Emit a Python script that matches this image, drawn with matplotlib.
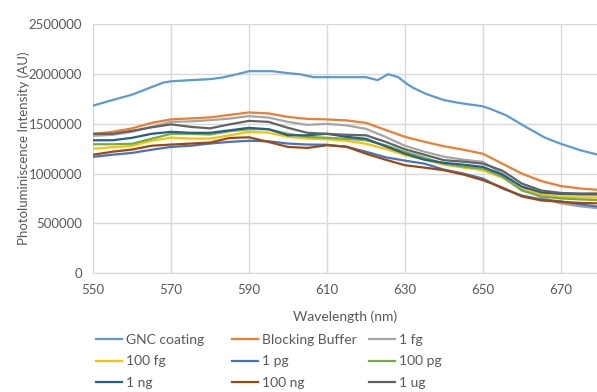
import matplotlib
matplotlib.use("Agg")
import matplotlib.pyplot as plt
from matplotlib.ticker import FuncFormatter

plt.rcParams['font.family'] = ['Lato', 'DejaVu Sans']

# shared wavelength grid (nm)
wavelength = [550, 555, 560, 565, 570, 575, 580, 585, 590, 595, 600, 605, 610, 615,
              620, 625, 630, 635, 640, 645, 650, 655, 660, 665, 670, 675, 680]

# GNC coating is read more finely (it has a small bump near 625 nm)
gnc_wavelength = [550, 555, 560, 565, 568, 570, 575, 580, 583, 587, 590, 596, 600, 603,
                  606.5, 610, 620, 623, 625.7, 628.3, 630.4, 632, 635.5, 640, 644, 650,
                  652, 656, 661, 666, 670, 675, 680]
gnc_coating = [1.684, 1.74, 1.794, 1.87, 1.915, 1.928, 1.94, 1.95, 1.965, 2.0, 2.03, 2.03,
               2.01, 2.0, 1.97, 1.97, 1.97, 1.94, 2.0, 1.97, 1.905, 1.865, 1.80, 1.74,
               1.71, 1.677, 1.65, 1.586, 1.47, 1.36, 1.30, 1.235, 1.185]

blocking_buffer = [1.40, 1.42, 1.455, 1.51, 1.545, 1.555, 1.565, 1.59, 1.615, 1.605, 1.57,
                   1.55, 1.545, 1.535, 1.51, 1.44, 1.37, 1.32, 1.275, 1.24, 1.20, 1.10,
                   1.0, 0.925, 0.875, 0.85, 0.835]
fg_1 = [1.38, 1.39, 1.42, 1.47, 1.52, 1.525, 1.537, 1.553, 1.578, 1.563, 1.52, 1.49, 1.50,
        1.485, 1.45, 1.37, 1.28, 1.22, 1.17, 1.14, 1.118, 1.0, 0.86, 0.76, 0.70, 0.67, 0.65]
fg_100 = [1.25, 1.265, 1.28, 1.33, 1.362, 1.352, 1.352, 1.385, 1.42, 1.412, 1.369, 1.352,
          1.345, 1.33, 1.30, 1.25, 1.185, 1.14, 1.09, 1.06, 1.034, 0.96, 0.84, 0.79, 0.767,
          0.76, 0.76]
pg_1 = [1.168, 1.19, 1.208, 1.24, 1.268, 1.28, 1.302, 1.319, 1.33, 1.325, 1.302, 1.292, 1.29,
        1.27, 1.22, 1.165, 1.13, 1.10, 1.04, 1.0, 0.95, 0.85, 0.78, 0.74, 0.72, 0.69, 0.665]
pg_100 = [1.295, 1.295, 1.30, 1.35, 1.40, 1.40, 1.393, 1.426, 1.446, 1.446, 1.40, 1.369, 1.36,
          1.35, 1.335, 1.285, 1.218, 1.16, 1.10, 1.07, 1.05, 0.97, 0.83, 0.77, 0.75, 0.74,
          0.733]
ng_1 = [1.335, 1.335, 1.36, 1.40, 1.42, 1.41, 1.41, 1.435, 1.46, 1.446, 1.385, 1.385, 1.40,
        1.37, 1.35, 1.275, 1.20, 1.14, 1.108, 1.09, 1.067, 0.99, 0.87, 0.81, 0.795, 0.79, 0.79]
ng_100 = [1.19, 1.22, 1.242, 1.28, 1.292, 1.302, 1.312, 1.358, 1.365, 1.318, 1.268, 1.258,
          1.285, 1.27, 1.20, 1.14, 1.084, 1.06, 1.034, 0.99, 0.934, 0.86, 0.77, 0.73, 0.716,
          0.705, 0.70]
ug_1 = [1.40, 1.40, 1.43, 1.465, 1.495, 1.47, 1.455, 1.495, 1.53, 1.52, 1.46, 1.41, 1.40,
        1.39, 1.385, 1.32, 1.245, 1.19, 1.135, 1.12, 1.10, 1.03, 0.90, 0.83, 0.805, 0.80, 0.80]

labels = ['GNC coating', 'Blocking Buffer', '1 fg', '100 fg', '1 pg', '100 pg',
          '1 ng', '100 ng', '1 ug']
colors = ['#5B9BD5', '#ED7D31', '#A5A5A5', '#FFC000', '#4472C4', '#70AD47',
          '#255E91', '#9E480E', '#636363']

series = [(gnc_wavelength, gnc_coating), (wavelength, blocking_buffer), (wavelength, fg_1),
          (wavelength, fg_100), (wavelength, pg_1), (wavelength, pg_100),
          (wavelength, ng_1), (wavelength, ng_100), (wavelength, ug_1)]

fig = plt.figure(figsize=(5.97, 3.92), dpi=100)
ax = fig.add_axes([0.156, 0.3036, 0.844, 0.634])

handles = []
for (xs, ys), lab, col in zip(series, labels, colors):
    h, = ax.plot(xs, [v * 1e6 for v in ys], color=col, lw=1.6, label=lab,
                 solid_joinstyle='round')
    handles.append(h)

ax.set_xlim(550, 679.3)
ax.set_ylim(0, 2500000)
ax.set_xticks([550, 570, 590, 610, 630, 650, 670])
ax.set_yticks([0, 500000, 1000000, 1500000, 2000000, 2500000])
ax.yaxis.set_major_formatter(FuncFormatter(lambda v, p: '%d' % v))
ax.grid(True, color='#D9D9D9', lw=1)
ax.set_axisbelow(True)
for s in ['top', 'right', 'left']:
    ax.spines[s].set_visible(False)
ax.spines['bottom'].set_color('#D9D9D9')
ax.tick_params(length=0, labelsize=9.5, colors='#595959', pad=8)

ax.set_xlabel('Wavelength (nm)', fontsize=10, color='#595959', labelpad=10)
ax.set_ylabel('Photoluminiscence Intensity (AU)', fontsize=9.5, color='#595959', labelpad=-1)

# legend as three columns with equal spacing, like Excel
col_x = [96 / 597, 232 / 597, 369 / 597]
for c in range(3):
    idx = [c, c + 3, c + 6]
    leg = fig.legend([handles[i] for i in idx], [labels[i] for i in idx],
                     loc='upper left', bbox_to_anchor=(col_x[c], 1 - 334 / 392),
                     frameon=False, fontsize=10, handlelength=1.9, handletextpad=0.25,
                     labelspacing=0.68, borderpad=0, borderaxespad=0)
    for t in leg.get_texts():
        t.set_color('#595959')

fig.savefig('out.png', dpi=100)
